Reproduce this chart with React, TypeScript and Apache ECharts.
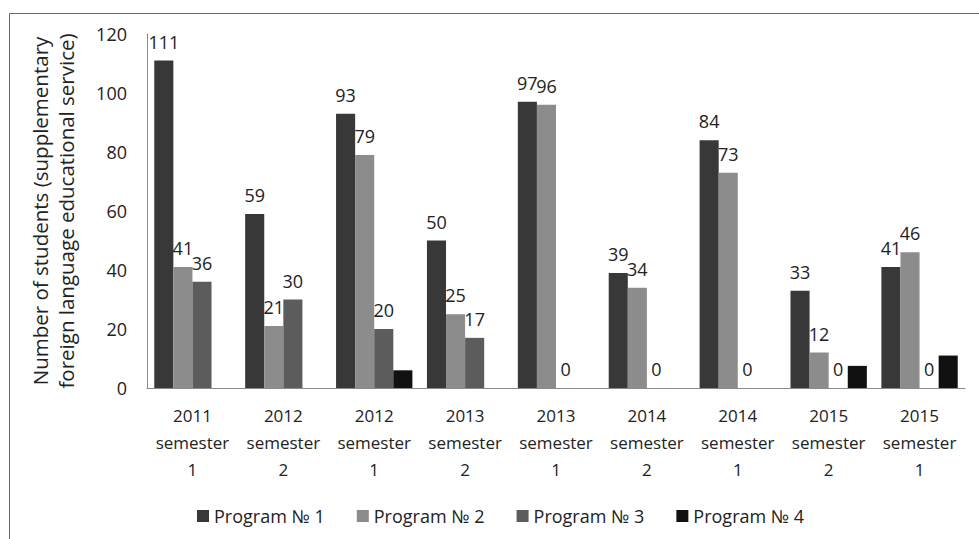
import React, { useEffect, useRef } from "react";
import * as echarts from "echarts";

const categories = [
  "2011\nsemester\n1",
  "2012\nsemester\n2",
  "2012\nsemester\n1",
  "2013\nsemester\n2",
  "2013\nsemester\n1",
  "2014\nsemester\n2",
  "2014\nsemester\n1",
  "2015\nsemester\n2",
  "2015\nsemester\n1",
];

const seriesNames = ["Program № 1", "Program № 2", "Program № 3", "Program № 4"];

const program1 = [111, 59, 93, 50, 97, 39, 84, 33, 41];
const program2 = [41, 21, 79, 25, 96, 34, 73, 12, 46];
const program3 = [36, 30, 20, 17, 0, 0, 0, 0, 0];
const program4: (number | null)[] = [null, null, 6, null, null, null, null, 7.5, 11];

const colors = ["#383838", "#8c8c8c", "#5c5c5c", "#111111"];

const FONT = "Open Sans";

export default function App() {
  const ref = useRef<HTMLDivElement>(null);

  useEffect(() => {
    if (!ref.current) return;
    const chart = echarts.init(ref.current, undefined, { renderer: "svg" });
    const values = [program1, program2, program3, program4];
    chart.setOption({
      animation: false,
      backgroundColor: "#ffffff",
      textStyle: { fontFamily: FONT },
      graphic: [
        {
          type: "rect",
          left: 7,
          top: 11,
          shape: { width: 1200, height: 800 },
          style: { fill: "none", stroke: "#6a6a6a", lineWidth: 1 },
          silent: true,
        },
      ],
      grid: { left: 147, right: 14, top: 34, bottom: 151, containLabel: false },
      legend: {
        left: 192,
        top: 502,
        itemWidth: 12,
        itemHeight: 12,
        itemGap: 32,
        icon: "rect",
        textStyle: { fontFamily: FONT, fontSize: 18, color: "#222" },
        data: seriesNames,
      },
      xAxis: {
        type: "category",
        data: categories,
        axisLine: { lineStyle: { color: "#8a8a8a", width: 1 } },
        axisTick: { show: false },
        axisLabel: {
          interval: 0,
          margin: 14,
          fontFamily: FONT,
          fontSize: 17,
          lineHeight: 27,
          color: "#222",
        },
      },
      yAxis: {
        type: "value",
        min: 0,
        max: 120,
        interval: 20,
        name: "Number of students (supplementary\nforeign language educational service)",
        nameLocation: "middle",
        nameGap: 68,
        nameTextStyle: { fontFamily: FONT, fontSize: 20.5, color: "#222", lineHeight: 26 },
        axisLine: { show: true, lineStyle: { color: "#8a8a8a", width: 1 } },
        axisTick: { show: false },
        splitLine: { show: false },
        axisLabel: { margin: 20, fontFamily: FONT, fontSize: 18, color: "#222" },
      },
      series: seriesNames.map((name, i) => ({
        name,
        type: "bar",
        data: values[i],
        barGap: "0%",
        barCategoryGap: "16%",
        itemStyle: { color: colors[i] },
        label: {
          show: i < 3,
          position: "top",
          distance: 10,
          fontFamily: FONT,
          fontSize: 18,
          color: "#222",
        },
      })),
    });
    return () => chart.dispose();
  }, []);

  return (
    <div
      ref={ref}
      style={{ position: "absolute", left: 0, top: 0, width: 979, height: 539 }}
    />
  );
}
